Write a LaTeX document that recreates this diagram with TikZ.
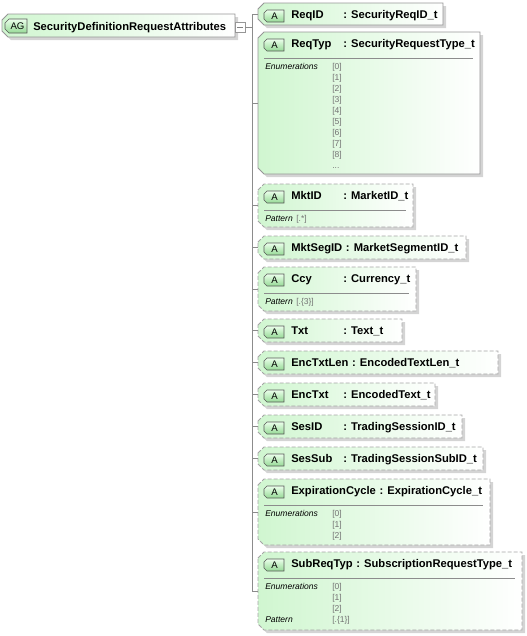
\documentclass[tikz,border=0pt]{standalone}
\usepackage{fontspec}
\setmainfont{Liberation Sans}
\usepackage{tikz}
\usetikzlibrary{positioning}

\definecolor{boxgreen}{RGB}{208,246,208}
\definecolor{boxline}{RGB}{150,150,150}
\definecolor{optline}{RGB}{165,165,165}
\definecolor{boxshadow}{RGB}{212,212,212}
\definecolor{badgegreen}{RGB}{150,218,150}
\definecolor{valgrey}{RGB}{115,115,115}

% attribute box: #1 name, #2 top, #3 bottom, #4 right edge, #5 border style
\newcommand{\attrbox}[5]{%
  \fill[boxshadow] (261,#2+9) -- (267,#2+3) -- (#4+3,#2+3) -- (#4+3,#3+3) -- (267,#3+3) -- (261,#3-3) -- cycle;
  \draw[#5, left color=boxgreen, right color=white] (258,#2+6) -- (264,#2) -- (#4,#2) -- (#4,#3) -- (264,#3) -- (258,#3-6) -- cycle;
  \draw[badge] (264,#2+10) -- (267,#2+7) -- (284,#2+7) -- (284,#2+19) -- (267,#2+19) -- (264,#2+16) -- cycle;
  \node[badgetext] (#1-a) at (274.5,#2+16.5) {A};
  \coordinate (#1) at (258,{(#2+#3)/2});
}

\begin{document}
\begin{tikzpicture}[x=0.75pt,y=0.75pt,yscale=-1,xscale=1,
  solidline/.style={draw=boxline, line width=0.6pt},
  dashline/.style={draw=optline, line width=0.6pt, dash pattern=on 3pt off 1.5pt},
  badge/.style={draw=black!65, line width=0.5pt, top color=green!8, bottom color=badgegreen},
  badgetext/.style={anchor=base, inner sep=0pt, font=\fontsize{7.2pt}{8pt}\selectfont},
  attrname/.style={anchor=base west, inner sep=0pt, font=\fontsize{8.4pt}{10pt}\selectfont\bfseries},
  attrtype/.style={anchor=base west, inner sep=0pt, font=\fontsize{8.4pt}{10pt}\selectfont\bfseries},
  facet/.style={anchor=base west, inner sep=0pt, font=\fontsize{6.4pt}{7.5pt}\selectfont\itshape},
  facetval/.style={anchor=base west, inner sep=0pt, text=valgrey, font=\fontsize{6.4pt}{7.5pt}\selectfont},
  sepline/.style={draw=black!45, line width=0.5pt},
  conn/.style={draw=black!45, line width=0.5pt},
  minusbox/.style={draw=boxline, fill=white, line width=0.5pt, minimum size=7.5pt, inner sep=0pt}]
\useasboundingbox (0,0) rectangle (527,636);

%Shape: Attribute group
\fill[boxshadow] (5,23) -- (11,17) -- (238,17) -- (238,40) -- (11,40) -- (5,34) -- cycle;
\draw[solidline, left color=boxgreen, right color=white] (2,20) -- (8,14) -- (235,14) -- (235,37) -- (8,37) -- (2,31) -- cycle;
\draw[badge] (5,23) -- (9,19) -- (27,19) -- (27,33) -- (9,33) -- (5,29) -- cycle;
\node[badgetext] (root-a) at (17.5,29.8) {AG};
\node[attrname] (root) at (33,30) {SecurityDefinitionRequestAttributes};
\node[minusbox] (root-m) at (240,27) {};
\draw[draw=black!50, line width=0.5pt] ([xshift=-2pt]root-m.center) -- ([xshift=2pt]root-m.center);

%Straight Lines: spine
\coordinate (spine-top) at (252,14);
\coordinate (spine-bot) at (252,591);
\draw[conn] (spine-top) -- (spine-bot);
\draw[conn] (root-m.east) -- (root-m.east -| spine-top);

%Shape: ReqID
\attrbox{ReqID}{3}{25}{443}{solidline}
\node[attrname] (ReqID-n) at (291,18.5) {ReqID};
\node[attrtype] (ReqID-t) at (343,18.5) {: SecurityReqID\_t};

%Shape: ReqTyp
\attrbox{ReqTyp}{32}{174}{480}{solidline}
\node[attrname] (ReqTyp-n) at (291,47.5) {ReqTyp};
\node[attrtype] (ReqTyp-t) at (343,47.5) {: SecurityRequestType\_t};
\draw[sepline] (264,58) -- (473,58);
\node[facet] (ReqTyp-f) at (265,69) {Enumerations};
\foreach \i in {0,...,8}
  \node[facetval] (ReqTyp-e\i) at (332,69+11*\i) {[\i]};
\node[facetval] (ReqTyp-more) at (332,168) {...};

%Shape: MktID
\attrbox{MktID}{184}{227}{413}{dashline}
\node[attrname] (MktID-n) at (291,199.5) {MktID};
\node[attrtype] (MktID-t) at (343,199.5) {: MarketID\_t};
\draw[sepline] (264,210) -- (406,210);
\node[facet] (MktID-f) at (265,221) {Pattern};
\node[facetval] (MktID-p) at (296,221) {[.*]};

%Shape: MktSegID
\attrbox{MktSegID}{236}{259}{466}{dashline}
\node[attrname] (MktSegID-n) at (291,251.5) {MktSegID};
\node[attrtype, base right=2.3pt of MktSegID-n] (MktSegID-t) {: MarketSegmentID\_t};

%Shape: Ccy
\attrbox{Ccy}{267}{311}{416}{dashline}
\node[attrname] (Ccy-n) at (291,282.5) {Ccy};
\node[attrtype] (Ccy-t) at (343,282.5) {: Currency\_t};
\draw[sepline] (264,293) -- (409,293);
\node[facet] (Ccy-f) at (265,304) {Pattern};
\node[facetval] (Ccy-p) at (296,304) {[.\{3\}]};

%Shape: Txt
\attrbox{Txt}{319}{342}{402}{dashline}
\node[attrname] (Txt-n) at (291,334.5) {Txt};
\node[attrtype] (Txt-t) at (343,334.5) {: Text\_t};

%Shape: EncTxtLen
\attrbox{EncTxtLen}{351}{374}{498}{dashline}
\node[attrname] (EncTxtLen-n) at (291,366.5) {EncTxtLen};
\node[attrtype, base right=2.3pt of EncTxtLen-n] (EncTxtLen-t) {: EncodedTextLen\_t};

%Shape: EncTxt
\attrbox{EncTxt}{383}{406}{435}{dashline}
\node[attrname] (EncTxt-n) at (291,398.5) {EncTxt};
\node[attrtype] (EncTxt-t) at (343,398.5) {: EncodedText\_t};

%Shape: SesID
\attrbox{SesID}{415}{438}{462}{dashline}
\node[attrname] (SesID-n) at (291,430.5) {SesID};
\node[attrtype] (SesID-t) at (343,430.5) {: TradingSessionID\_t};

%Shape: SesSub
\attrbox{SesSub}{447}{470}{483}{dashline}
\node[attrname] (SesSub-n) at (291,462.5) {SesSub};
\node[attrtype] (SesSub-t) at (343,462.5) {: TradingSessionSubID\_t};

%Shape: ExpirationCycle
\attrbox{ExpirationCycle}{479}{545}{490}{dashline}
\node[attrname] (ExpirationCycle-n) at (291,494.5) {ExpirationCycle};
\node[attrtype, base right=2.3pt of ExpirationCycle-n] (ExpirationCycle-t) {: ExpirationCycle\_t};
\draw[sepline] (264,505) -- (483,505);
\node[facet] (ExpirationCycle-f) at (265,516) {Enumerations};
\foreach \i in {0,1,2}
  \node[facetval] (ExpirationCycle-e\i) at (332,516+11*\i) {[\i]};

%Shape: SubReqTyp
\attrbox{SubReqTyp}{552}{630}{522}{dashline}
\node[attrname] (SubReqTyp-n) at (291,567.5) {SubReqTyp};
\node[attrtype, base right=2.3pt of SubReqTyp-n] (SubReqTyp-t) {: SubscriptionRequestType\_t};
\draw[sepline] (264,578) -- (515,578);
\node[facet] (SubReqTyp-f) at (265,589) {Enumerations};
\foreach \i in {0,1,2}
  \node[facetval] (SubReqTyp-e\i) at (332,589+11*\i) {[\i]};
\node[facet] (SubReqTyp-g) at (265,622) {Pattern};
\node[facetval] (SubReqTyp-p) at (332,622) {[.\{1\}]};

%Straight Lines: connectors
\foreach \a in {ReqID,ReqTyp,MktID,MktSegID,Ccy,Txt,EncTxtLen,EncTxt,SesID,SesSub,ExpirationCycle,SubReqTyp}
  \draw[conn] (spine-top |- \a) -- (\a);

\end{tikzpicture}
\end{document}
